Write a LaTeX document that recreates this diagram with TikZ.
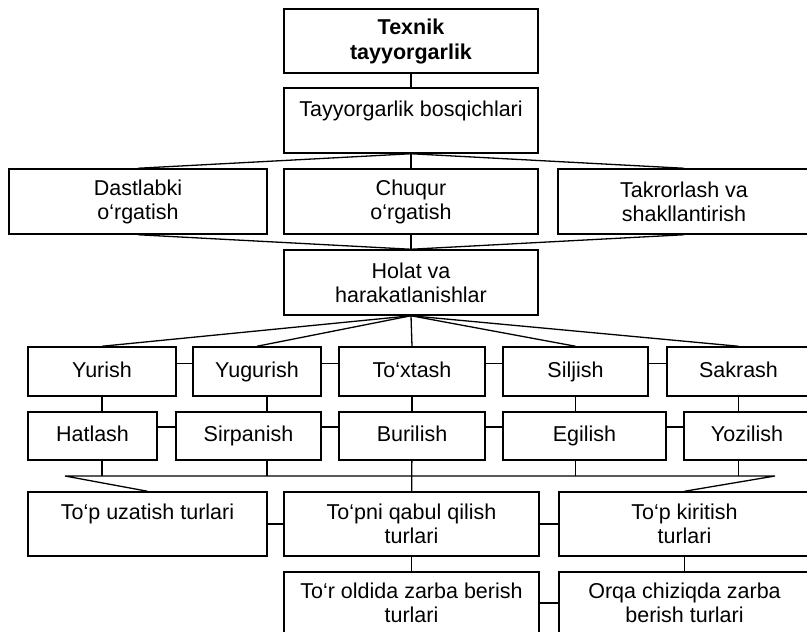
\documentclass[tikz,border=0pt]{standalone}
\usepackage{fontspec}
\setmainfont{Liberation Sans}

\begin{document}
\begin{tikzpicture}[x=1pt, y=-1pt,
  box/.style={draw, line width=1.5pt, align=center, inner sep=0pt,
    font=\fontsize{21.5}{24}\selectfont},
  headbox/.style={box, font=\fontsize{21.5}{25}\selectfont\bfseries},
  word/.style={box, text height=15.5pt, text depth=4.5pt},
  link/.style={line width=1.3pt}]

  \useasboundingbox (0,0) rectangle (807,632);

  % ───────── Top: title and stages ─────────
  \node[headbox, minimum width=254pt, minimum height=64pt] (texnik) at (411,41) {Texnik\\tayyorgarlik};
  \node[box, minimum width=254pt, minimum height=65pt] (bosq) at (411,120.5) {Tayyorgarlik bosqichlari\\\mbox{}};

  % ───────── Three stages ─────────
  \node[box, minimum width=258pt, minimum height=65pt] (dast) at (138,201.5) {Dastlabki\\o‘rgatish};
  \node[box, minimum width=254pt, minimum height=65pt] (chuq) at (411,201.5) {Chuqur\\o‘rgatish};
  \node[box, minimum width=252pt, minimum height=65pt] (takr) at (684,201.5) {Takrorlash va\\shakllantirish};

  \node[box, minimum width=254pt, minimum height=65pt] (holat) at (411,282.5) {Holat va\\harakatlanishlar};

  % ───────── Movements, row 1 (y 347–396) ─────────
  \node[word, minimum width=148pt, minimum height=49pt] (yurish)  at (102,371.5)   {Yurish};
  \node[word, minimum width=128pt, minimum height=49pt] (yugur)   at (257,371.5)   {Yugurish};
  \node[word, minimum width=146pt, minimum height=49pt] (toxtash) at (412,371.5)   {To‘xtash};
  \node[word, minimum width=145pt, minimum height=49pt] (siljish) at (575.5,371.5) {Siljish};
  \node[word, minimum width=143pt, minimum height=49pt] (sakrash) at (738.5,371.5) {Sakrash};

  % ───────── Movements, row 2 (y 412–460) ─────────
  \node[word, minimum width=129pt, minimum height=48pt] (hatlash)  at (92.5,436)  {Hatlash};
  \node[word, minimum width=145pt, minimum height=48pt] (sirpan)   at (248.5,436) {Sirpanish};
  \node[word, minimum width=146pt, minimum height=48pt] (burilish) at (412,436)   {Burilish};
  \node[word, minimum width=163pt, minimum height=48pt] (egilish)  at (584.5,436) {Egilish};
  \node[word, minimum width=126pt, minimum height=48pt] (yozilish) at (747,436)   {Yozilish};

  % ───────── Ball work ─────────
  \node[box, minimum width=239pt, minimum height=64pt] (uzatish)  at (147.5,524) {To‘p uzatish turlari\\\mbox{}};
  \node[box, minimum width=255pt, minimum height=64pt] (qabul)    at (411.5,524) {To‘pni qabul qilish\\turlari};
  \node[box, minimum width=251pt, minimum height=64pt] (kiritish) at (684.5,524) {To‘p kiritish\\turlari};

  \node[box, minimum width=255pt, minimum height=62pt] (oldida) at (411.5,603) {To‘r oldida zarba berish\\turlari};
  \node[box, minimum width=251pt, minimum height=62pt] (orqa)   at (684.5,603) {Orqa chiziqda zarba\\berish turlari};

  % ───────── Fan connectors ─────────
  \draw[link] (texnik) -- (bosq);
  \foreach \n in {dast, chuq, takr} {
    \draw[link] (bosq.south) -- (\n.north);
    \draw[link] (\n.south) -- (holat.north);
  }
  \foreach \n in {yurish, yugur, toxtash, siljish, sakrash}
    \draw[link] (holat.south) -- (\n.north);

  % ───────── Side links between neighbours ─────────
  \foreach \a/\b in {yurish/yugur, yugur/toxtash, toxtash/siljish, siljish/sakrash}
    \draw[link] ([yshift=8pt]\a.east) -- ([yshift=8pt]\b.west);
  \foreach \a/\b in {hatlash/sirpan, sirpan/burilish, burilish/egilish, egilish/yozilish}
    \draw[link] ([yshift=9pt]\a.east) -- ([yshift=9pt]\b.west);
  \draw[link] (uzatish) -- (qabul);
  \draw[link] (qabul) -- (kiritish);
  \draw[link] (oldida) -- (orqa);

  % ───────── Row 1 down to row 2 ─────────
  \coordinate (yugdown) at ([xshift=10pt]yugur.south);
  \draw[link] (yurish.south) -- (hatlash.north -| yurish.south);
  \draw[link] (yugdown) -- (sirpan.north -| yugdown);
  \draw[link] (toxtash) -- (burilish);
  \draw[link] (siljish.south) -- (egilish.north -| siljish.south);
  \draw[link] (sakrash.south) -- (yozilish.north -| sakrash.south);

  % ───────── Collecting bus to ball work ─────────
  \coordinate (busL) at (65,476);
  \coordinate (busR) at (775,476);
  \draw[link] (uzatish.north) -- (busL) -- (busR) -- (kiritish.north);
  \draw[link] (hatlash.south -| yurish.south) -- (busL -| yurish.south);
  \draw[link] (sirpan.south -| yugdown) -- (busL -| yugdown);
  \draw[link] (burilish) -- (qabul);
  \draw[link] (egilish.south -| siljish.south) -- (busL -| siljish.south);
  \draw[link] (yozilish.south -| sakrash.south) -- (busL -| sakrash.south);

  \draw[link] (qabul) -- (oldida);
  \draw[link] (kiritish) -- (orqa);

\end{tikzpicture}
\end{document}
